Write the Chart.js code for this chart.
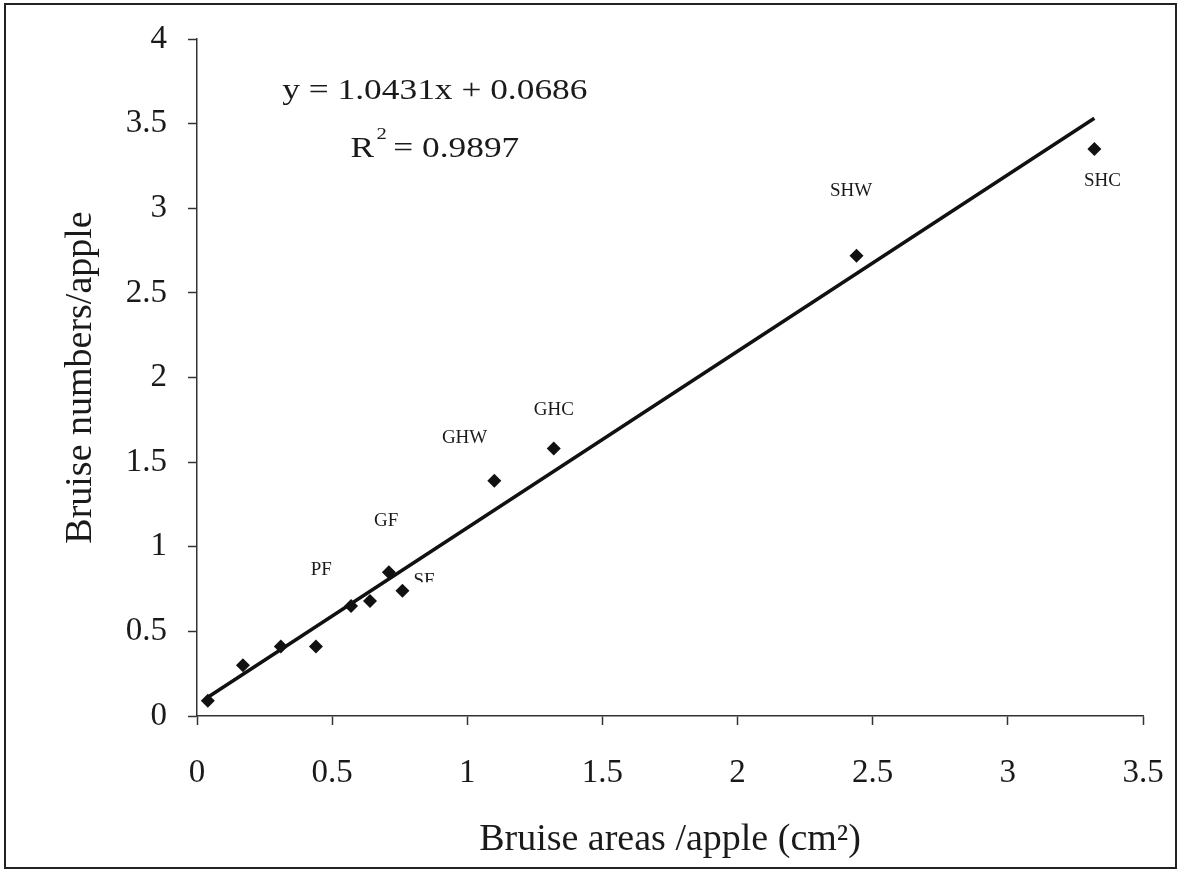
<!DOCTYPE html>
<html>
<head>
<meta charset="utf-8">
<title>Bruise numbers vs bruise areas</title>
<script src="https://cdn.jsdelivr.net/npm/chart.js@4.4.1/dist/chart.umd.min.js"></script>
<style>
    html, body { margin: 0; padding: 0; background: #fff; }
    #wrap { width: 1185px; height: 873px; position: relative; }
</style>
</head>
<body>
<div id="wrap"><canvas id="bruiseChart" width="1185" height="873"></canvas></div>
<script>
// Measured means per treatment
const bruiseAreas = [0.04, 0.17, 0.31, 0.44, 0.57, 0.64, 0.71, 0.76, 1.10, 1.32, 2.44, 3.32];
const bruiseNumbers = [0.09, 0.30, 0.41, 0.41, 0.65, 0.68, 0.85, 0.74, 1.39, 1.58, 2.72, 3.35];

// Linear fit reported on the chart
const fitSlope = 1.0431;
const fitIntercept = 0.0686;
const fitR2 = 0.9897;

// Axis ticks
const xTicks = [0, 0.5, 1, 1.5, 2, 2.5, 3, 3.5];
const yTicks = [0, 0.5, 1, 1.5, 2, 2.5, 3, 3.5, 4];

// Treatment group labels, anchored in data units
const groupLabels = [
    { text: 'PF',  x: 0.46, y: 0.86 },
    { text: 'GF',  x: 0.70, y: 1.15 },
    { text: 'SF',  x: 0.84, y: 0.80, clipBelow: 0.79 },
    { text: 'GHW', x: 0.99, y: 1.64 },
    { text: 'GHC', x: 1.32, y: 1.81 },
    { text: 'SHW', x: 2.42, y: 3.10 },
    { text: 'SHC', x: 3.35, y: 3.16 }
];

const serif = '"Liberation Serif", "Times New Roman", serif';
const ink = '#1a1a1a';

document.addEventListener('DOMContentLoaded', function() {
    const ctx = document.getElementById('bruiseChart').getContext('2d');

    const points = bruiseAreas.map((x, i) => ({ x: x, y: bruiseNumbers[i] }));
    const xMin = Math.min(...bruiseAreas);
    const xMax = Math.max(...bruiseAreas);
    const fitLine = [
        { x: xMin, y: fitSlope * xMin + fitIntercept },
        { x: xMax, y: fitSlope * xMax + fitIntercept }
    ];

    // Frame, regression text and group names
    const annotations = {
        id: 'annotations',
        afterDraw(chart) {
            const c = chart.ctx;
            const xs = chart.scales.x;
            const ys = chart.scales.y;
            c.save();

            c.strokeStyle = '#222';
            c.lineWidth = 2;
            c.strokeRect(5, 4, 1171, 864);

            c.fillStyle = ink;
            c.textBaseline = 'middle';

            // regression text is set a little wide
            const stretch = 1.22;
            c.save();
            c.translate(xs.getPixelForValue(0.88), ys.getPixelForValue(3.69));
            c.scale(stretch, 1);
            c.textAlign = 'center';
            c.font = '29px ' + serif;
            c.fillText('y = ' + fitSlope + 'x + ' + fitIntercept, 0, 0);
            c.restore();

            // R² with a raised 2
            c.save();
            c.translate(xs.getPixelForValue(0.88), ys.getPixelForValue(3.35));
            c.scale(stretch, 1);
            const r2Text = ' = ' + fitR2;
            c.font = '29px ' + serif;
            const wR = c.measureText('R').width;
            const wRest = c.measureText(r2Text).width;
            c.font = '17px ' + serif;
            const wSup = c.measureText('2').width;
            const left = -(wR + wSup + wRest) / 2;
            c.textAlign = 'left';
            c.fillText('2', left + wR + 2, -14);
            c.font = '29px ' + serif;
            c.fillText('R', left, 0);
            c.fillText(r2Text, left + wR + wSup, 0);
            c.restore();

            c.textAlign = 'center';
            c.font = '19px ' + serif;
            groupLabels.forEach(lbl => {
                const px = xs.getPixelForValue(lbl.x);
                const py = ys.getPixelForValue(lbl.y);
                c.save();
                if (lbl.clipBelow !== undefined) {
                    c.beginPath();
                    c.rect(0, 0, chart.width, ys.getPixelForValue(lbl.clipBelow));
                    c.clip();
                }
                c.fillText(lbl.text, px, py);
                c.restore();
            });

            c.restore();
        }
    };

    const axisCommon = {
        type: 'linear',
        min: 0,
        grid: {
            display: true,
            drawOnChartArea: false,
            drawTicks: true,
            tickLength: 9,
            tickWidth: 1.5,
            tickColor: '#333'
        },
        border: { display: true, color: '#333', width: 1.5 }
    };

    new Chart(ctx, {
        type: 'scatter',
        data: {
            datasets: [
                {
                    label: 'Treatments',
                    data: points,
                    pointStyle: 'rectRot',
                    pointRadius: 7,
                    pointHoverRadius: 7,
                    backgroundColor: '#111',
                    borderColor: '#111',
                    borderWidth: 0
                },
                {
                    label: 'Linear fit',
                    type: 'line',
                    data: fitLine,
                    borderColor: '#111',
                    borderWidth: 3.5,
                    pointRadius: 0,
                    fill: false
                }
            ]
        },
        options: {
            responsive: false,
            animation: false,
            layout: { padding: { top: 39, right: 42, left: 0, bottom: 0 } },
            plugins: {
                legend: { display: false },
                tooltip: { enabled: false }
            },
            scales: {
                x: Object.assign({}, axisCommon, {
                    max: 3.5,
                    afterBuildTicks: axis => { axis.ticks = xTicks.map(v => ({ value: v })); },
                    afterFit: axis => {
                        axis.height = 157;
                        axis.paddingLeft = 0;
                        axis.paddingRight = 0;
                    },
                    ticks: {
                        padding: 29,
                        color: ink,
                        maxRotation: 0,
                        font: { family: serif, size: 33 },
                        callback: value => String(value)
                    },
                    title: {
                        display: true,
                        text: 'Bruise areas /apple (cm²)',
                        color: ink,
                        font: { family: serif, size: 38 },
                        padding: { bottom: 10 }
                    }
                }),
                y: Object.assign({}, axisCommon, {
                    max: 4,
                    afterBuildTicks: axis => { axis.ticks = yTicks.map(v => ({ value: v })); },
                    afterFit: axis => {
                        axis.width = 197;
                        axis.paddingTop = 0;
                        axis.paddingBottom = 0;
                    },
                    ticks: {
                        padding: 21,
                        color: ink,
                        font: { family: serif, size: 33 },
                        callback: value => String(value)
                    },
                    title: {
                        display: true,
                        text: 'Bruise numbers/apple',
                        color: ink,
                        font: { family: serif, size: 38 },
                        padding: { top: 58 }
                    }
                })
            }
        },
        plugins: [annotations]
    });
});
</script>
</body>
</html>
